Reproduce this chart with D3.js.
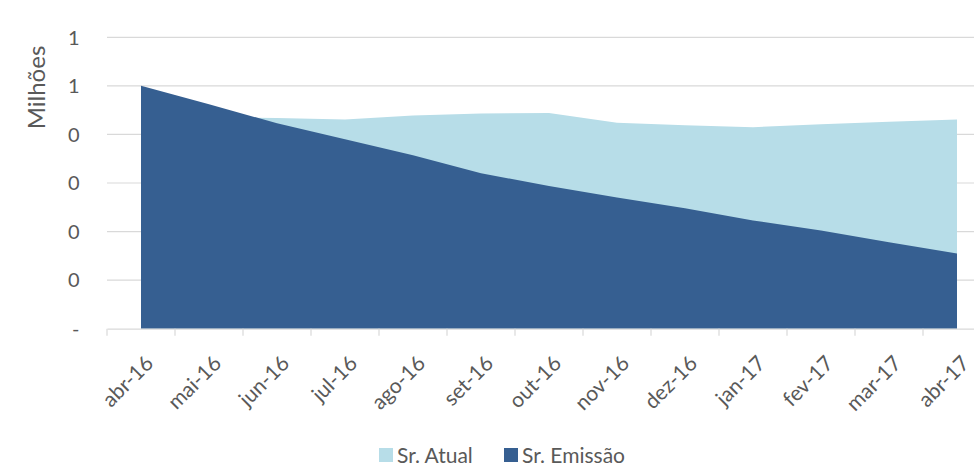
<!DOCTYPE html>
<html>
<head>
<meta charset="utf-8">
<script src="https://cdn.jsdelivr.net/npm/d3@7"></script>
<style>
  body { margin: 0; background: #fff; }
  svg { display: block; font-family: Lato, "Open Sans", sans-serif; }
</style>
</head>
<body>
<svg id="chart" width="974" height="466"></svg>
<script>
// months on the x axis
const months = ["abr-16", "mai-16", "jun-16", "jul-16", "ago-16", "set-16", "out-16",
                "nov-16", "dez-16", "jan-17", "fev-17", "mar-17", "abr-17"];

// values in millions
const srAtual   = [0.430, 0.435, 0.434, 0.431, 0.439, 0.443, 0.444, 0.424, 0.419, 0.415, 0.421, 0.426, 0.431];
const srEmissao = [0.500, 0.462, 0.423, 0.390, 0.357, 0.320, 0.294, 0.270, 0.248, 0.223, 0.202, 0.178, 0.155];

const yTicks = [0, 0.1, 0.2, 0.3, 0.4, 0.5, 0.6];

const seriesNames = ["Sr. Atual", "Sr. Emissão"];
const colors = { "Sr. Atual": "#b7dde8", "Sr. Emissão": "#365f91" };

const svg = d3.select("#chart");
const plotLeft = 107, plotRight = 991, plotTop = 37.3, plotBottom = 328.7;

const xScale = d3.scaleBand()
  .domain(months)
  .range([plotLeft, plotRight]);

const yScale = d3.scaleLinear()
  .domain([0, 0.6])
  .range([plotBottom, plotTop]);

const cx = m => xScale(m) + xScale.bandwidth() / 2;

//Gridlines
svg.append("g")
  .selectAll("line")
  .data(yTicks.filter(d => d > 0))
  .join("line")
    .attr("x1", plotLeft)
    .attr("x2", plotRight)
    .attr("y1", d => yScale(d))
    .attr("y2", d => yScale(d))
    .attr("stroke", "#d9d9d9")
    .attr("stroke-width", 1.2);

//Areas, Sr. Atual behind Sr. Emissão
const area = d3.area()
  .x(d => cx(d.month))
  .y0(yScale(0))
  .y1(d => yScale(d.value));

const seriesData = [
  { name: "Sr. Atual", values: months.map((m, i) => ({ month: m, value: srAtual[i] })) },
  { name: "Sr. Emissão", values: months.map((m, i) => ({ month: m, value: srEmissao[i] })) }
];

svg.append("g")
  .selectAll("path")
  .data(seriesData)
  .join("path")
    .attr("d", d => area(d.values))
    .attr("fill", d => colors[d.name]);

//X axis
const xAxis = svg.append("g")
  .attr("transform", `translate(0,${plotBottom})`)
  .call(d3.axisBottom(xScale).tickSize(0).tickPadding(0));

xAxis.select(".domain").attr("stroke", "#d9d9d9").attr("stroke-width", 1.2);
xAxis.selectAll(".tick text").remove();

// tick marks sit between categories
svg.append("g")
  .selectAll("line")
  .data(months)
  .join("line")
    .attr("x1", d => xScale(d))
    .attr("x2", d => xScale(d))
    .attr("y1", plotBottom)
    .attr("y2", plotBottom + 7)
    .attr("stroke", "#d9d9d9")
    .attr("stroke-width", 1.2);

svg.append("g")
  .selectAll("text")
  .data(months)
  .join("text")
    .attr("transform", d => `translate(${cx(d) + 13.5},${plotBottom + 36}) rotate(-45)`)
    .attr("text-anchor", "end")
    .attr("fill", "#595959")
    .attr("font-size", 21)
    .text(d => d);

//Y axis labels
svg.append("g")
  .selectAll("text")
  .data(yTicks)
  .join("text")
    .attr("x", 79.5)
    .attr("y", d => yScale(d))
    .attr("dy", "0.36em")
    .attr("text-anchor", "end")
    .attr("fill", "#595959")
    .attr("font-size", 20)
    .text(d => d === 0 ? "-" : String(Math.round(d + 1e-9)));

svg.append("text")
  .attr("transform", "translate(45,87.5) rotate(-90)")
  .attr("text-anchor", "middle")
  .attr("fill", "#595959")
  .attr("font-size", 24)
  .text("Milhões");

//Legend
const legend = svg.append("g")
  .selectAll("g")
  .data(seriesNames)
  .join("g")
    .attr("transform", (d, i) => `translate(${i === 0 ? 379 : 504},448)`);

legend.append("rect")
  .attr("width", 14)
  .attr("height", 14)
  .attr("fill", d => colors[d]);

legend.append("text")
  .attr("x", 18)
  .attr("y", 7)
  .attr("dy", "0.36em")
  .attr("fill", "#595959")
  .attr("font-size", 21)
  .text(d => d);
</script>
</body>
</html>
